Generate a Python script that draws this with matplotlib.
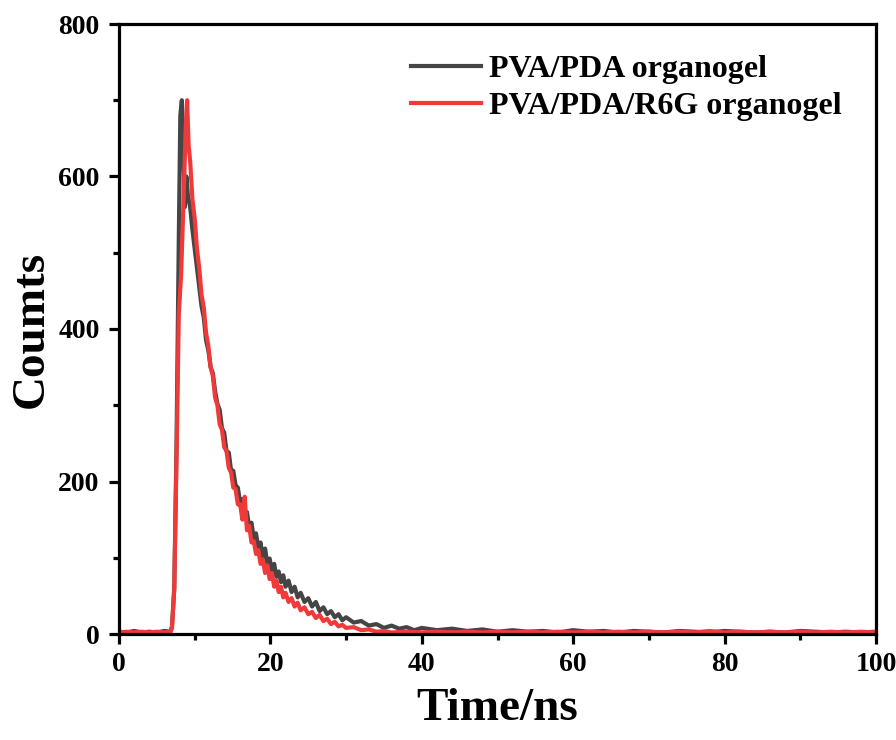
import numpy as np
import matplotlib
matplotlib.use('Agg')
import matplotlib.pyplot as plt
from matplotlib.ticker import MultipleLocator

# PVA/PDA organogel (time in ns, counts)
t_black = [0, 1, 2, 3, 4, 5, 6, 6.8, 7.0, 7.3, 7.6, 7.9, 8.1, 8.3, 8.5, 8.7, 8.9, 9.1,
           9.4, 9.7, 10.0, 10.3, 10.6, 10.9, 11.2, 11.5, 11.8, 12.1, 12.4, 12.7, 13.0,
           13.3, 13.6, 13.9, 14.2, 14.5, 14.8, 15.1, 15.4, 15.7, 16.0, 16.3, 16.6, 16.9,
           17.2, 17.5, 17.8, 18.1, 18.4, 18.7, 19.0, 19.3, 19.6, 19.9, 20.2, 20.5, 20.8,
           21.1, 21.4, 21.7, 22.0, 22.4, 22.8, 23.2, 23.6, 24.0, 24.5, 25.0, 25.5, 26.0,
           26.5, 27.0, 27.5, 28.0, 28.5, 29.0, 29.5, 30.0, 31, 32, 33, 34, 35, 36, 37,
           38, 39, 40, 42, 44, 46, 48, 50, 52, 54, 56, 58, 60, 62, 64, 66, 68, 70, 72,
           74, 76, 78, 80, 82, 84, 86, 88, 90, 92, 94, 96, 98, 100]
c_black = [3, 2, 4, 2, 3, 2, 4, 3, 10, 60, 250, 520, 680, 700, 640, 560, 600, 575,
           560, 530, 505, 480, 455, 430, 415, 385, 372, 350, 342, 318, 302,
           294, 270, 264, 240, 238, 215, 214, 195, 192, 172, 177, 155, 160,
           140, 146, 125, 132, 113, 120, 100, 112, 92, 99, 82, 92, 75,
           82, 68, 77, 62, 70, 55, 62, 48, 54, 42, 47, 36, 42,
           30, 35, 26, 30, 22, 26, 18, 22, 15, 17, 11, 13, 8, 11, 7,
           9, 5, 8, 5, 7, 4, 6, 3, 5, 3, 4, 2, 5, 3, 4, 2, 4, 3, 2,
           4, 3, 2, 4, 3, 2, 3, 2, 4, 3, 2, 3, 2, 3]

# PVA/PDA/R6G organogel
t_red = [0, 1, 2, 3, 4, 5, 6, 6.8, 7.0, 7.3, 7.6, 7.9, 8.2, 8.5, 8.8, 9.0, 9.2, 9.4,
         9.7, 10.0, 10.3, 10.6, 10.9, 11.2, 11.5, 11.8, 12.1, 12.4, 12.7, 13.0, 13.3,
         13.6, 13.9, 14.2, 14.5, 14.8, 15.1, 15.4, 15.7, 16.0, 16.3, 16.6, 16.9, 17.2,
         17.5, 17.8, 18.1, 18.4, 18.7, 19.0, 19.3, 19.6, 19.9, 20.2, 20.5, 20.8, 21.1,
         21.4, 21.7, 22.0, 22.4, 22.8, 23.2, 23.6, 24.0, 24.5, 25.0, 25.5, 26.0, 26.5,
         27.0, 27.5, 28.0, 28.5, 29.0, 29.5, 30, 31, 32, 33, 34, 35, 36, 38, 40, 42,
         44, 46, 48, 50, 52, 54, 56, 58, 60, 62, 64, 66, 68, 70, 72, 74, 76, 78, 80,
         82, 84, 86, 88, 90, 92, 94, 96, 98, 100]
c_red = [2, 3, 2, 3, 2, 3, 2, 3, 8, 60, 230, 420, 470, 560, 660, 700, 640, 620,
         570, 545, 505, 480, 445, 428, 395, 378, 350, 338, 310, 300, 275,
         268, 245, 240, 218, 212, 192, 190, 170, 170, 150, 180, 136, 142,
         120, 122, 105, 110, 92, 98, 80, 90, 72, 80, 62, 70, 55,
         62, 48, 54, 42, 47, 36, 41, 31, 35, 26, 29, 21, 25,
         17, 20, 13, 16, 10, 12, 8, 9, 5, 6, 3, 4, 2, 3, 2, 3,
         2, 3, 2, 3, 2, 3, 2, 3, 2, 3, 2, 3, 2, 3, 2, 3, 2, 4, 2,
         3, 2, 3, 2, 3, 2, 3, 2, 3, 2]

plt.rcParams['font.family'] = ['Liberation Serif', 'DejaVu Serif']
plt.rcParams['font.weight'] = 'bold'

fig = plt.figure(figsize=(8.96, 7.4), dpi=100)
ax = fig.add_axes([119/896, 106/740, 757/896, 610/740])

ax.plot(t_black, c_black, color='#454545', lw=3.0, label='PVA/PDA organogel')
ax.plot(t_red, c_red, color='#f03a3a', lw=3.0, label='PVA/PDA/R6G organogel')

ax.set_xlim(0, 100)
ax.set_ylim(0, 800)
ax.xaxis.set_major_locator(MultipleLocator(20))
ax.xaxis.set_minor_locator(MultipleLocator(10))
ax.yaxis.set_major_locator(MultipleLocator(200))
ax.yaxis.set_minor_locator(MultipleLocator(100))

for s in ax.spines.values():
    s.set_linewidth(2.3)
ax.tick_params(which='major', direction='out', length=7, width=2.3, labelsize=20, pad=6)
ax.tick_params(which='minor', direction='out', length=4, width=2.3)
ax.tick_params(axis='y', which='major', pad=7)
for lb in ax.get_xticklabels() + ax.get_yticklabels():
    lb.set_fontweight('bold')

ax.set_xlabel('Time/ns', fontsize=34, fontweight='bold', labelpad=8)
ax.set_ylabel('Coumts', fontsize=34, fontweight='bold', labelpad=4)

ax.legend(loc='upper left', bbox_to_anchor=(0.386, 0.95), frameon=False,
          prop={'size': 23, 'weight': 'bold'}, handlelength=2.2,
          handletextpad=0.25, labelspacing=0.25, borderaxespad=0, borderpad=0)

fig.savefig('out.png', dpi=100)
